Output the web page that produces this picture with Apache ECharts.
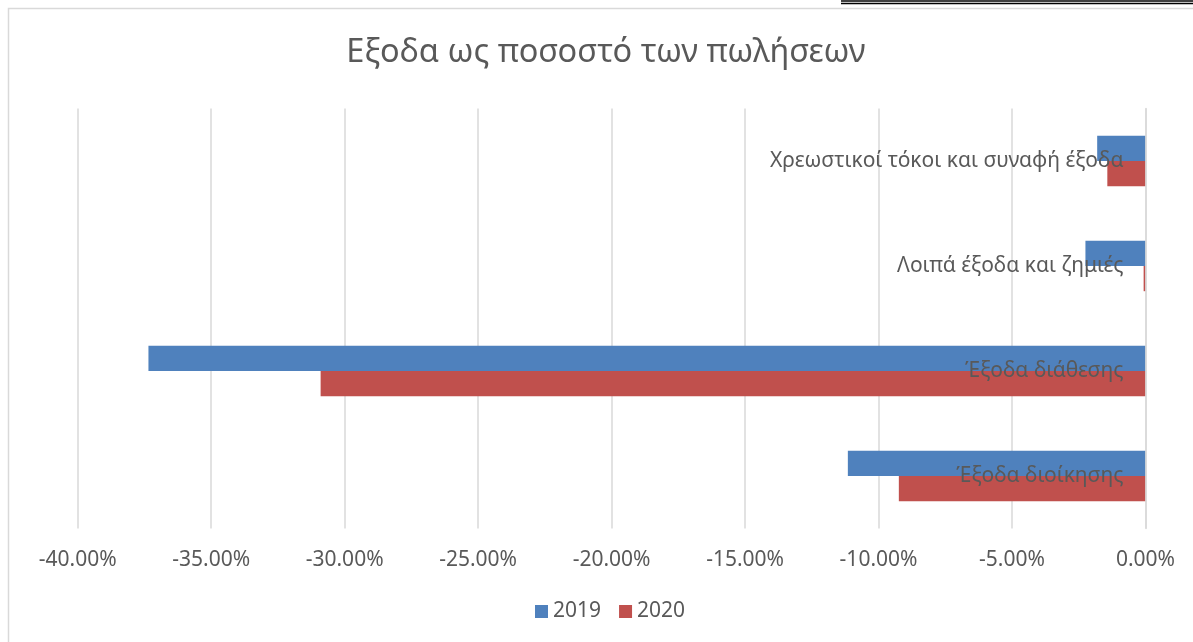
<!DOCTYPE html>
<html>
<head>
<meta charset="utf-8">
<script src="https://cdn.jsdelivr.net/npm/echarts@6/dist/echarts.min.js"></script>
<style>
html,body{margin:0;padding:0;background:#fff;}
#c{width:1193px;height:642px;}
</style>
</head>
<body>
<div id="c"></div>
<script>
// Categories listed top to bottom
var categories = ['Χρεωστικοί τόκοι και συναφή έξοδα', 'Λοιπά έξοδα και ζημιές', 'Έξοδα διάθεσης', 'Έξοδα διοίκησης'];
var seriesNames = ['2019', '2020'];
var values2019 = [-0.0181, -0.0225, -0.3735, -0.1115];
var values2020 = [-0.0143, -0.0007, -0.3090, -0.0924];
var xTicksMin = -0.40, xTicksMax = 0, xTickStep = 0.05;
var titleText = 'Εξοδα ως ποσοστό των πωλήσεων';

var font = '"Noto Sans", "Open Sans", sans-serif';
var chart = echarts.init(document.getElementById('c'), null, {renderer: 'canvas'});
chart.setOption({
  animation: false,
  backgroundColor: '#fff',
  title: {
    text: titleText,
    left: 601, top: 31, textAlign: 'center',
    textStyle: {fontFamily: font, fontSize: 32.5, fontWeight: 'normal', color: '#595959'}
  },
  legend: {
    data: seriesNames,
    top: 601, left: 535, padding: 0,
    itemWidth: 13, itemHeight: 13, itemGap: 18,
    icon: 'rect',
    textStyle: {fontFamily: font, fontSize: 21, color: '#595959'}
  },
  grid: {left: 77.7, right: 47.5, top: 108.5, bottom: 113.5, containLabel: false},
  xAxis: {
    type: 'value', min: xTicksMin, max: xTicksMax, interval: xTickStep,
    axisLine: {show: false}, axisTick: {show: false},
    splitLine: {show: true, lineStyle: {color: '#D9D9D9', width: 1.5}},
    axisLabel: {
      fontFamily: font, fontSize: 21, color: '#595959', margin: 21,
      formatter: function (v) { return (v * 100).toFixed(2) + '%'; }
    }
  },
  yAxis: {
    type: 'category', data: categories, inverse: true, position: 'right',
    axisLine: {show: true, lineStyle: {color: '#D9D9D9', width: 1.5}},
    axisTick: {show: false},
    axisLabel: {inside: true, margin: 22, fontFamily: font, fontSize: 21, color: '#595959'},
    z: 10
  },
  series: [
    {name: '2019', type: 'bar', data: values2019, barGap: '0%', barCategoryGap: '52%',
     itemStyle: {color: '#4F81BD'}},
    {name: '2020', type: 'bar', data: values2020, barGap: '0%', barCategoryGap: '52%',
     itemStyle: {color: '#C0504D'}}
  ],
  graphic: [
    {type: 'rect', shape: {x: 8.5, y: 8.5, width: 1200, height: 700}, style: {fill: null, stroke: '#D9D9D9', lineWidth: 1.5}, silent: true},
    {type: 'line', shape: {x1: 841, y1: 1, x2: 1193, y2: 1}, style: {stroke: '#000', lineWidth: 1.5}, silent: true},
    {type: 'line', shape: {x1: 841, y1: 3.5, x2: 1193, y2: 3.5}, style: {stroke: '#000', lineWidth: 1.5}, silent: true}
  ]
});
</script>
</body>
</html>
